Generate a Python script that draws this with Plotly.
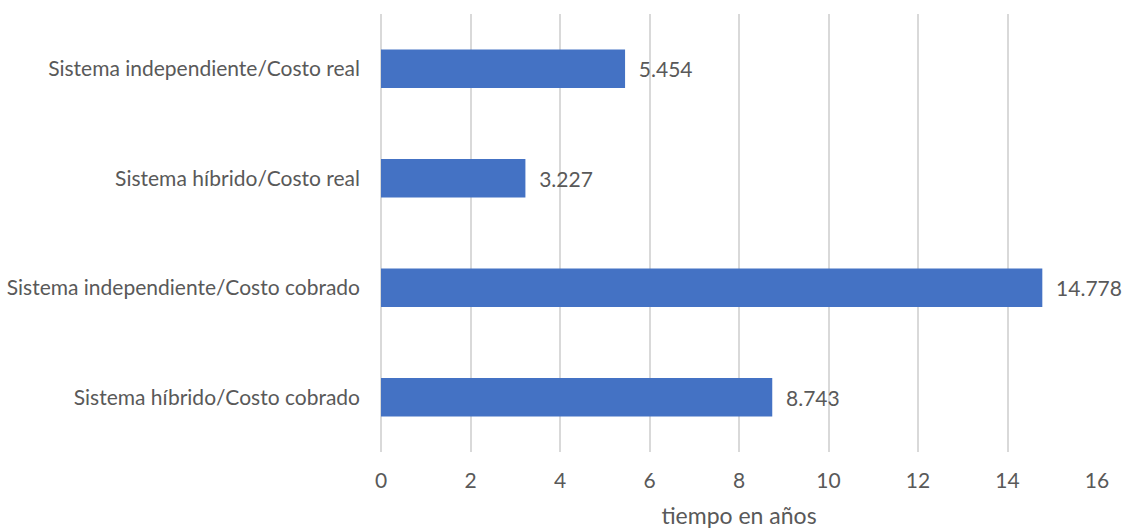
import plotly.graph_objects as go

categories = [
    "Sistema independiente/Costo real",
    "Sistema híbrido/Costo real",
    "Sistema independiente/Costo cobrado",
    "Sistema híbrido/Costo cobrado",
]
values = [5.454, 3.227, 14.778, 8.743]
value_labels = ["5.454", "3.227", "14.778", "8.743"]
x_ticks = [0, 2, 4, 6, 8, 10, 12, 14, 16]

FONT = "Lato, Open Sans, sans-serif"
GREY = "#595959"

fig = go.Figure(go.Bar(
    y=categories,
    x=values,
    orientation="h",
    marker=dict(color="#4472C4", line=dict(width=0)),
    text=["  " + t for t in value_labels],
    textposition="outside",
    textfont=dict(family=FONT, size=21, color=GREY),
    cliponaxis=False,
))

fig.update_layout(
    width=1122, height=529,
    margin=dict(l=381, r=25, t=14, b=77),
    paper_bgcolor="white", plot_bgcolor="white",
    bargap=0.65,
    showlegend=False,
    font=dict(family=FONT, size=21, color=GREY),
)
fig.update_xaxes(
    range=[0, 16], tickvals=x_ticks,
    showgrid=True, gridcolor="#d9d9d9", gridwidth=2,
    zeroline=True, zerolinecolor="#d9d9d9", zerolinewidth=2,
    showline=False, automargin=False,
    ticks="", ticklabelstandoff=14,
    tickfont=dict(family=FONT, size=21, color=GREY),
    title=dict(text="tiempo en años", font=dict(family=FONT, size=23, color=GREY), standoff=16),
)
fig.update_yaxes(
    autorange="reversed", showgrid=False, zeroline=False, showline=False,
    automargin=False,
    ticks="", ticklabelstandoff=20,
    tickfont=dict(family=FONT, size=21, color=GREY),
)

fig.write_html("out.html")
